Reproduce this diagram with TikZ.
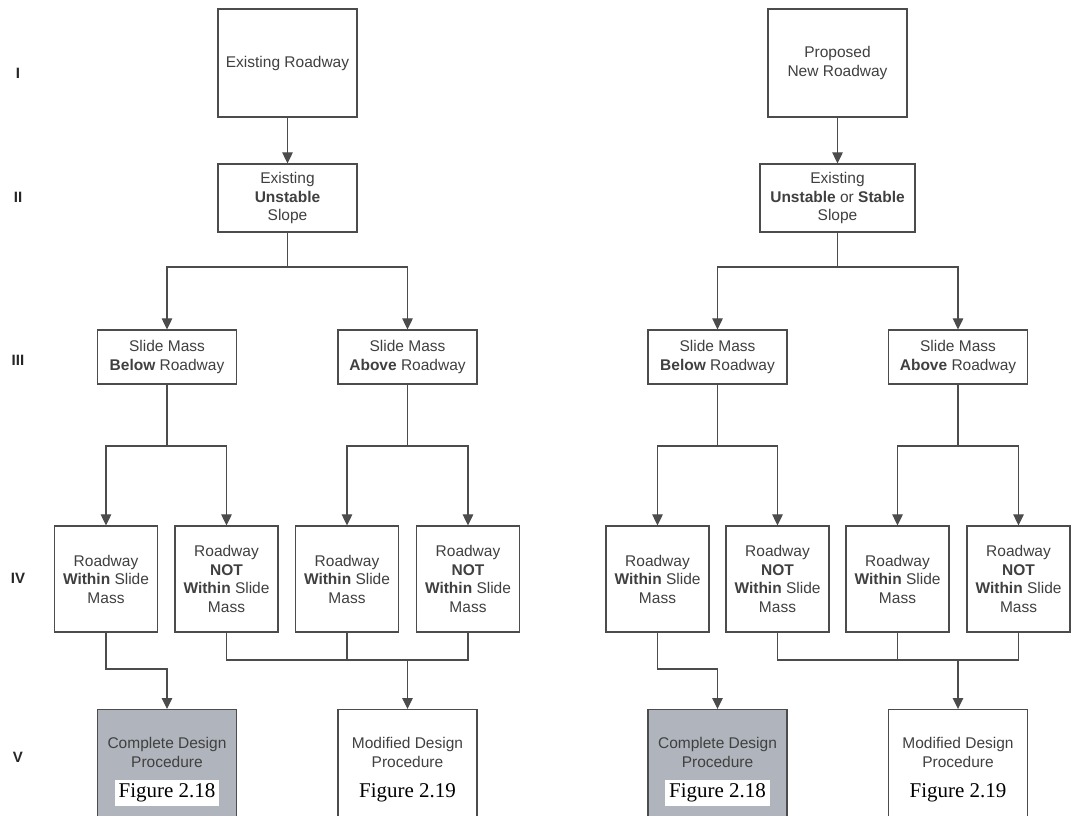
\documentclass[tikz,border=0pt]{standalone}
\usepackage{fontspec}
\setmainfont{Liberation Serif}
\setsansfont{Liberation Sans}
\usepackage{xcolor}
\usetikzlibrary{arrows.meta,positioning}
\definecolor{endgray}{RGB}{176,180,188}
\newcommand{\boxfont}{\sffamily\fontsize{15.5}{18.5}\selectfont}
\newcommand{\figlabel}[1]{{\setlength{\fboxsep}{4pt}\colorbox{white}{\rmfamily\fontsize{21}{23}\selectfont\color{black}#1}}}

\begin{document}
\begin{tikzpicture}[
    x=1pt, y=-1pt,
    box/.style={draw=black!70, line width=1.2pt, fill=white, text=black!75, align=center, font=\boxfont, inner sep=0},
    topbox/.style={box, minimum width=139pt, minimum height=108pt},
    slopebox/.style={box, minimum height=68pt},
    midbox/.style={box, minimum width=139pt, minimum height=54pt},
    tallbox/.style={box, minimum width=103pt, minimum height=106pt},
    endbox/.style={box, anchor=north, minimum width=139pt, inner ysep=28pt},
    rowlab/.style={font=\sffamily\bfseries\fontsize{15}{17}\selectfont, text=black!85},
    line/.style={draw=black!70, line width=1.1pt},
    arr/.style={line, -{Triangle[length=11pt,width=10.5pt]}}]
\useasboundingbox (0,0) rectangle (1083,815);
\clip (0,0) rectangle (1083,815);

% row labels
\node[rowlab] (r1) at (18,73)  {I};
\node[rowlab] (r2) at (18,197) {II};
\node[rowlab] (r3) at (18,360) {III};
\node[rowlab] (r4) at (18,578) {IV};
\node[rowlab] (r5) at (18,757) {V};

% level I and II
\node[topbox] (exist) at (287.5,63) {Existing Roadway};
\node[topbox] (propos) at (837.5,63) {Proposed\\New Roadway};
\node[slopebox, minimum width=139pt] (unstab) at (287.5,198) {Existing\\\textbf{Unstable}\\Slope};
\node[slopebox, minimum width=155pt] (either) at (837.5,198) {Existing\\\textbf{Unstable} or \textbf{Stable}\\Slope};

% level III
\node[midbox] (belowL) at (167,357)   {Slide Mass\\\textbf{Below} Roadway};
\node[midbox] (aboveL) at (407.5,357) {Slide Mass\\\textbf{Above} Roadway};
\node[midbox] (belowR) at (717.5,357) {Slide Mass\\\textbf{Below} Roadway};
\node[midbox] (aboveR) at (958,357)   {Slide Mass\\\textbf{Above} Roadway};

% level IV
\node[tallbox] (wBL) at (106,579)    {Roadway\\\textbf{Within} Slide\\Mass};
\node[tallbox] (nBL) at (226.5,579)  {Roadway\\\textbf{NOT}\\\textbf{Within} Slide\\Mass};
\node[tallbox] (wAL) at (347,579)    {Roadway\\\textbf{Within} Slide\\Mass};
\node[tallbox] (nAL) at (468,579)    {Roadway\\\textbf{NOT}\\\textbf{Within} Slide\\Mass};
\node[tallbox] (wBR) at (657.5,579)  {Roadway\\\textbf{Within} Slide\\Mass};
\node[tallbox] (nBR) at (777.5,579)  {Roadway\\\textbf{NOT}\\\textbf{Within} Slide\\Mass};
\node[tallbox] (wAR) at (897.5,579)  {Roadway\\\textbf{Within} Slide\\Mass};
\node[tallbox] (nAR) at (1018.5,579) {Roadway\\\textbf{NOT}\\\textbf{Within} Slide\\Mass};

% level V
\node[endbox, fill=endgray] (fullL) at (167,709)   {Complete Design\\Procedure\\[12pt]\figlabel{Figure 2.18}};
\node[endbox]               (modL)  at (407.5,709) {Modified Design\\Procedure\\[12pt]\figlabel{Figure 2.19}};
\node[endbox, fill=endgray] (fullR) at (717.5,709) {Complete Design\\Procedure\\[12pt]\figlabel{Figure 2.18}};
\node[endbox]               (modR)  at (958,709)   {Modified Design\\Procedure\\[12pt]\figlabel{Figure 2.19}};

% junctions
\coordinate (jL2) at (287.5,267);
\coordinate (jR2) at (837.5,267);
\coordinate (jBL) at (167,446);
\coordinate (jAL) at (407.5,446);
\coordinate (jBR) at (717.5,446);
\coordinate (jAR) at (958,446);
\coordinate (kL) at (106,669);
\coordinate (kR) at (657.5,669);
\coordinate (mL) at (407.5,660);
\coordinate (mR) at (958,660);

% left tree
\draw[arr] (exist) -- (unstab);
\draw[line] (unstab) -- (jL2);
\draw[arr] (jL2) -| (belowL);
\draw[arr] (jL2) -| (aboveL);
\draw[line] (belowL) -- (jBL);
\draw[arr] (jBL) -| (wBL);
\draw[arr] (jBL) -| (nBL);
\draw[line] (aboveL) -- (jAL);
\draw[arr] (jAL) -| (wAL);
\draw[arr] (jAL) -| (nAL);
\draw[arr] (wBL) -- (kL) -| (fullL);
\draw[line] (nBL) |- (mL);
\draw[line] (nAL) |- (mL);
\draw[line] (wAL) -- (wAL |- mL);
\draw[arr] (mL) -- (modL);

% right tree
\draw[arr] (propos) -- (either);
\draw[line] (either) -- (jR2);
\draw[arr] (jR2) -| (belowR);
\draw[arr] (jR2) -| (aboveR);
\draw[line] (belowR) -- (jBR);
\draw[arr] (jBR) -| (wBR);
\draw[arr] (jBR) -| (nBR);
\draw[line] (aboveR) -- (jAR);
\draw[arr] (jAR) -| (wAR);
\draw[arr] (jAR) -| (nAR);
\draw[arr] (wBR) -- (kR) -| (fullR);
\draw[line] (nBR) |- (mR);
\draw[line] (nAR) |- (mR);
\draw[line] (wAR) -- (wAR |- mR);
\draw[arr] (mR) -- (modR);

\end{tikzpicture}
\end{document}
